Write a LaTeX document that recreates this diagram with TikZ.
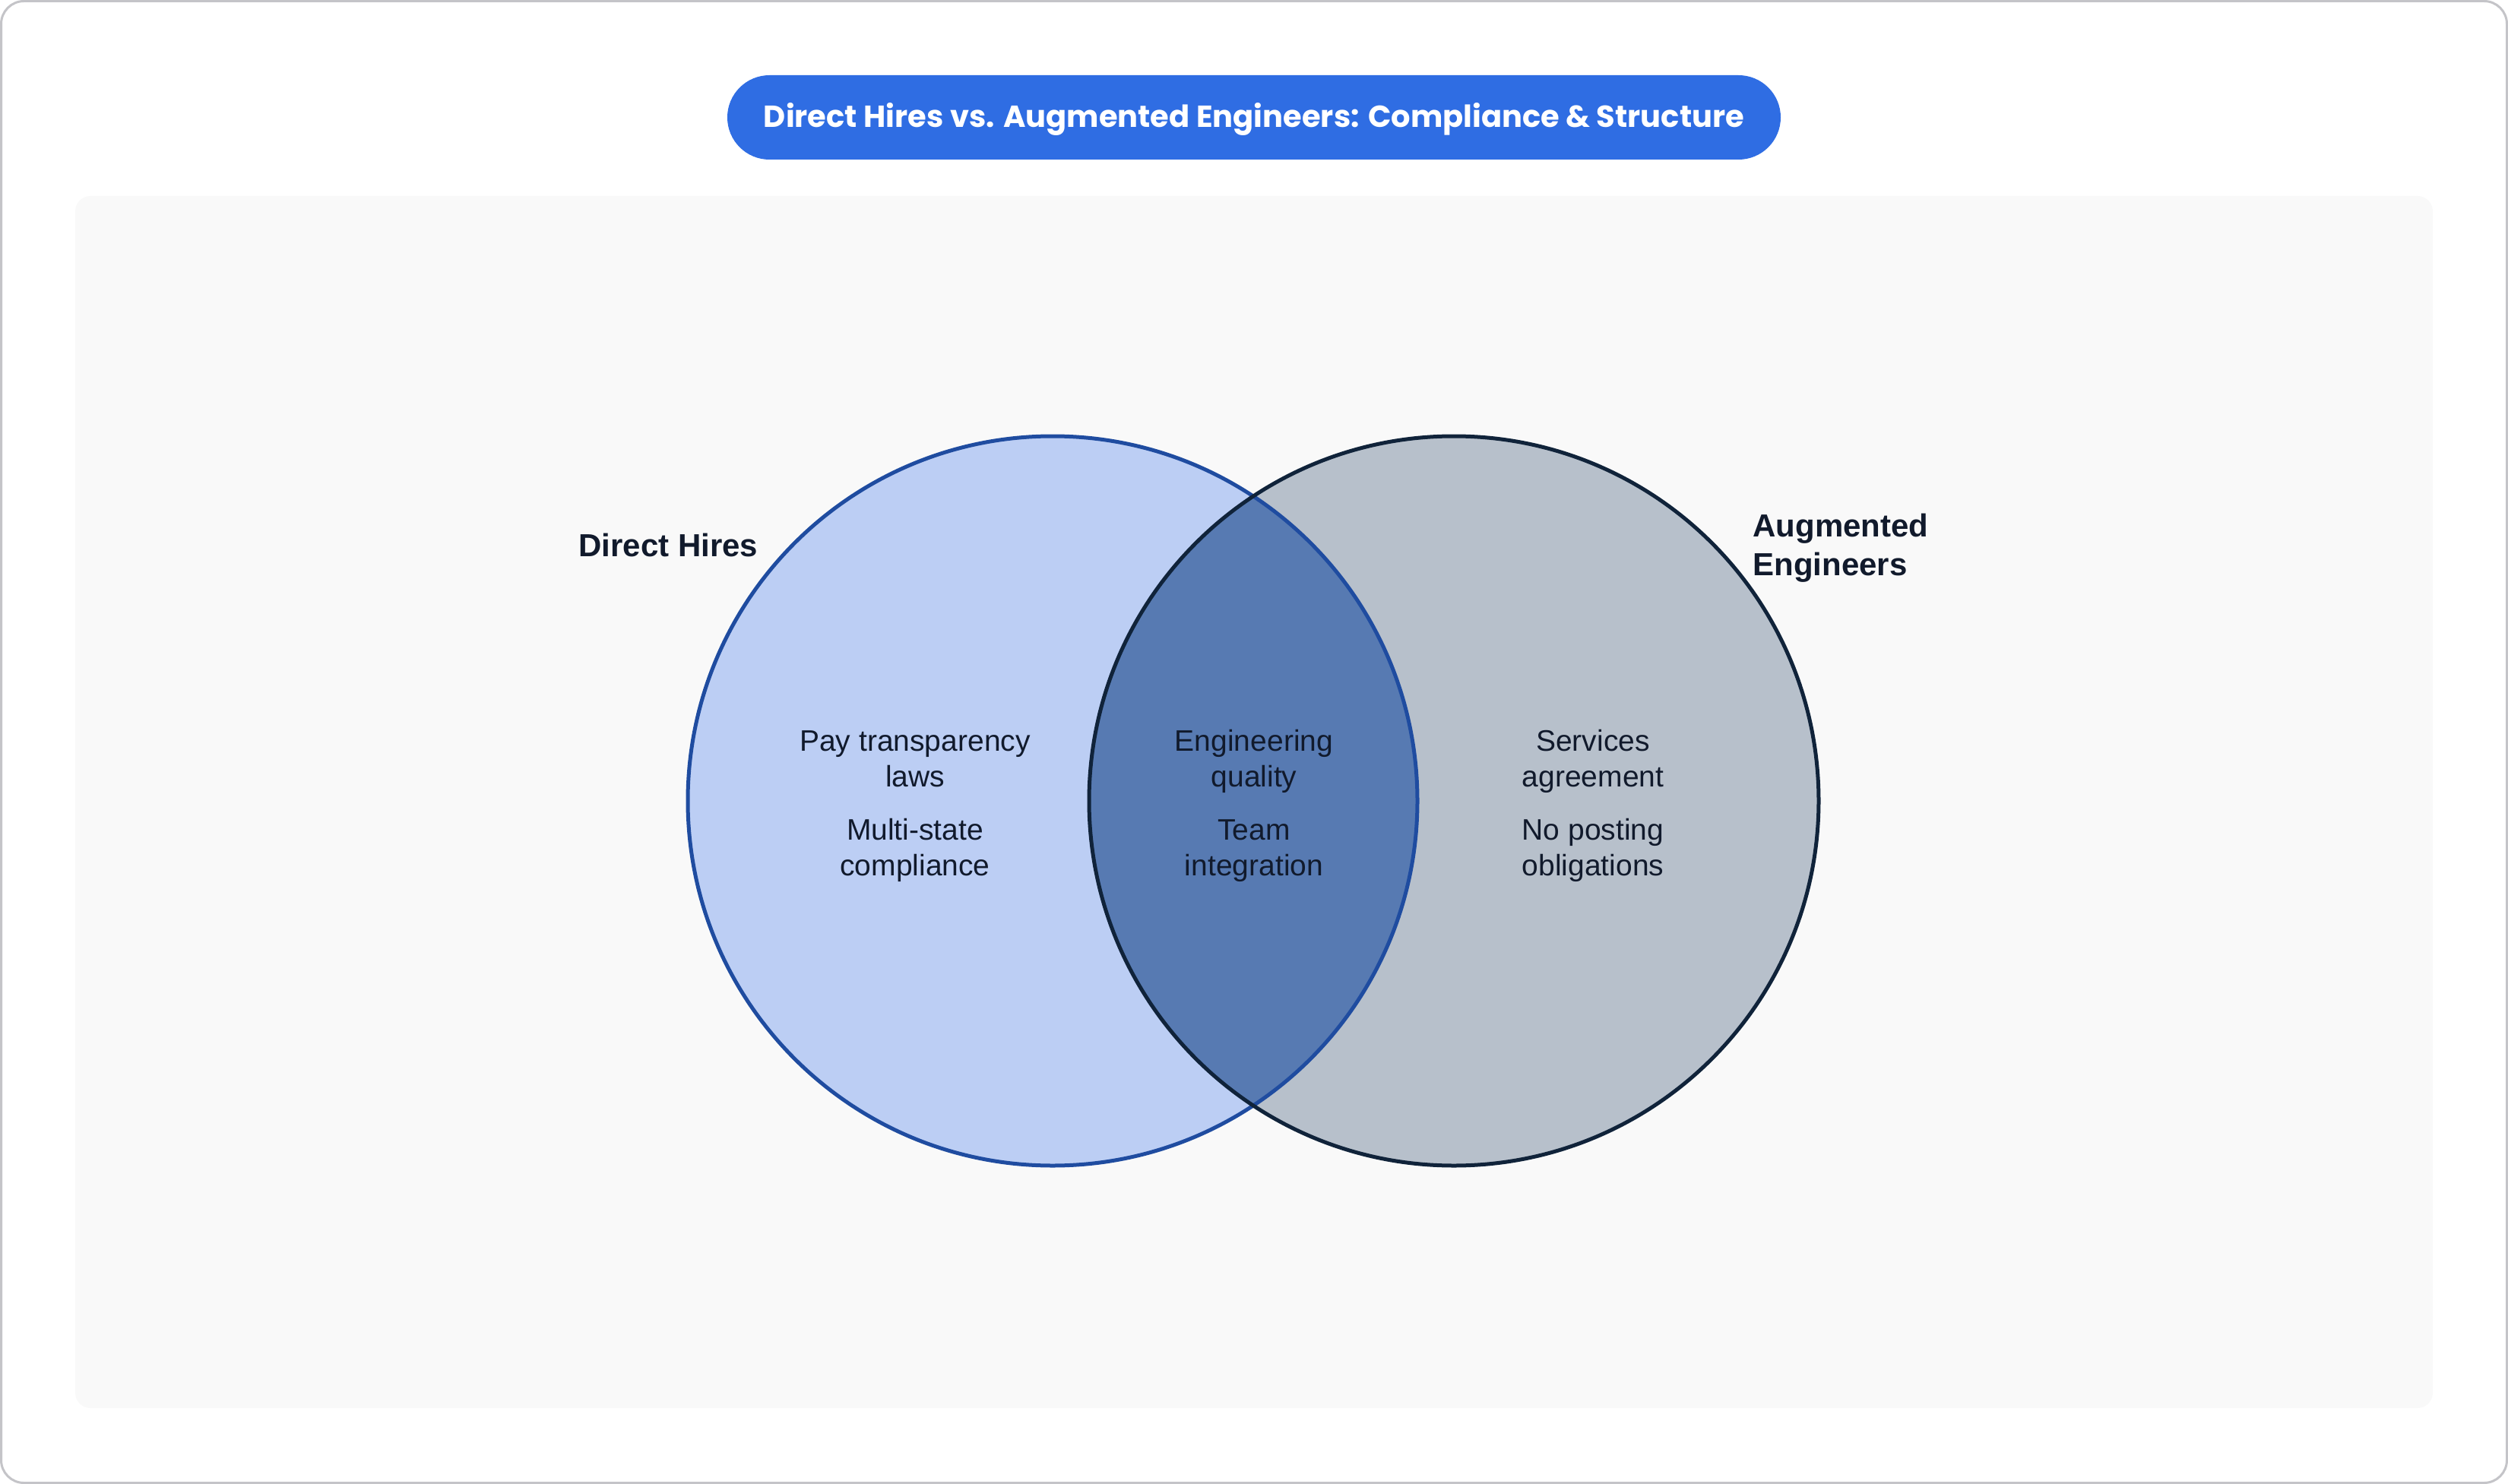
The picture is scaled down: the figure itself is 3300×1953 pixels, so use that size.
\documentclass[tikz,border=0pt]{standalone}
\usepackage{fontspec}
\setmainfont{Liberation Sans}
\newfontfamily\titlefont{Poppins}
\definecolor{frame}{HTML}{C4C4C8}
\definecolor{panel}{HTML}{F9F9F9}
\definecolor{pill}{HTML}{2F6DE3}
\definecolor{dhfill}{HTML}{BCCEF4}
\definecolor{dhline}{HTML}{1F4CA0}
\definecolor{aefill}{HTML}{B7C0CB}
\definecolor{aeline}{HTML}{10233A}
\definecolor{both}{HTML}{577AB2}
\definecolor{ink}{HTML}{111A2C}
\newcommand{\bodyfont}{\fontsize{19.5}{23.7}\selectfont}
\newcommand{\labelfont}{\fontsize{21}{25.5}\selectfont\bfseries}
\newcommand{\twolines}[2]{\begin{tabular}[t]{@{}c@{}}#1\\#2\end{tabular}}
\begin{document}
\begin{tikzpicture}[x=0.5pt,y=-0.5pt,
  item/.style={anchor=base,inner sep=0pt,text=ink,font=\bodyfont},
  setlabel/.style={anchor=base west,inner sep=0pt,text=ink,font=\labelfont}]
\useasboundingbox (0,0) rectangle (3300,1953);
\draw[frame,line width=1.5pt,rounded corners=15pt,fill=white] (1.5,1.5) rectangle (3298.5,1951.5);
\fill[panel,rounded corners=10pt] (99,258) rectangle (3201,1853);
% title
\fill[pill,rounded corners=27.75pt] (957,99) rectangle (2343,210);
\node[anchor=base,inner sep=0pt,text=white,font=\titlefont\bfseries\fontsize{20}{24}\selectfont] (title) at (1650,168) {Direct Hires vs. Augmented Engineers: Compliance \& Structure};
% circles
\coordinate (cL) at (1385,1054);
\coordinate (cR) at (1913,1054);
\fill[dhfill] (cL) circle (480);
\fill[aefill] (cR) circle (480);
\begin{scope}
  \clip (cL) circle (480);
  \fill[both] (cR) circle (480);
\end{scope}
\draw[dhline,line width=2.5pt] (cL) circle (480);
\draw[aeline,line width=2.5pt] (cR) circle (480);
% labels
\node[setlabel] (dhlabel) at (761,732) {Direct Hires};
\node[setlabel] (aelabel) at (2306,706) {\begin{tabular}[t]{@{}l@{}}Augmented\\Engineers\end{tabular}};
% items
\node[item] (pay) at (1204,988) {\twolines{Pay transparency}{laws}};
\node[item] (multi) at (1204,1105) {\twolines{Multi-state}{compliance}};
\node[item] (eng) at (1650,988) {\twolines{Engineering}{quality}};
\node[item] (team) at (1650,1105) {\twolines{Team}{integration}};
\node[item] (serv) at (2096,988) {\twolines{Services}{agreement}};
\node[item] (post) at (2096,1105) {\twolines{No posting}{obligations}};
\end{tikzpicture}
\end{document}
